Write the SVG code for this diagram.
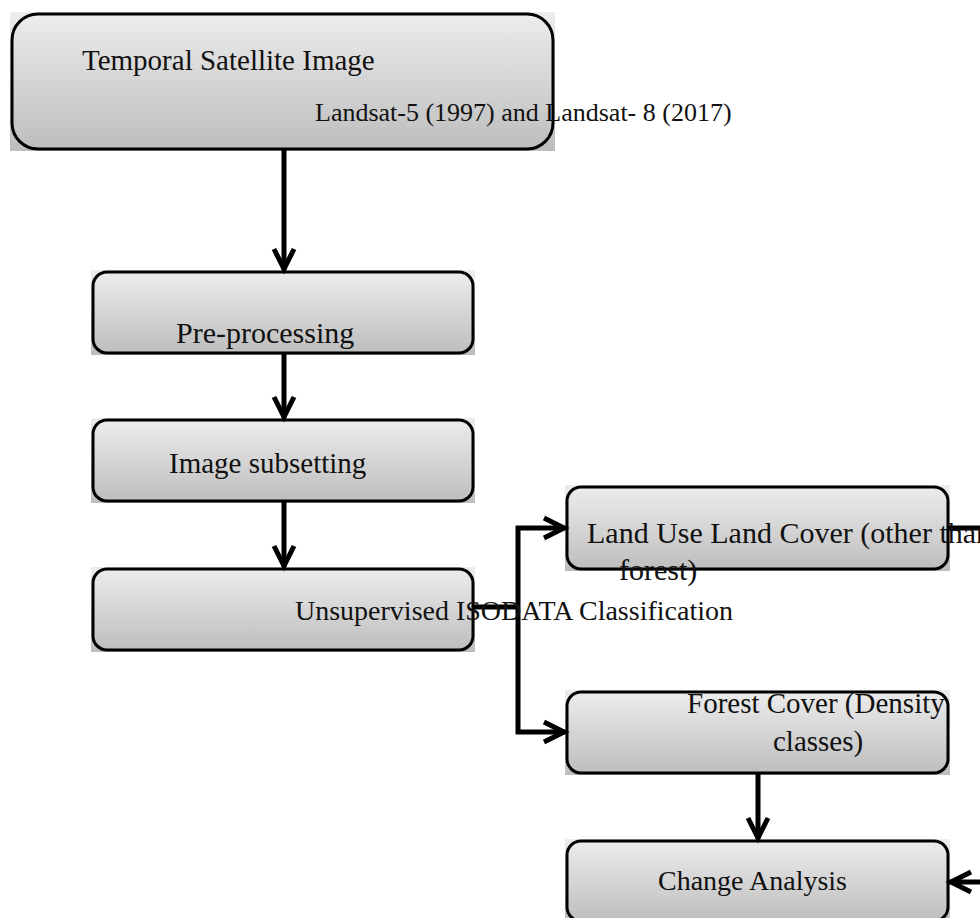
<svg xmlns="http://www.w3.org/2000/svg" width="980" height="918" viewBox="0 0 980 918">
<defs>
<linearGradient id="g" x1="0" y1="0" x2="0" y2="1">
<stop offset="0" stop-color="#ededed"/>
<stop offset="1" stop-color="#bdbdbd"/>
</linearGradient>
<marker id="arr" markerUnits="userSpaceOnUse" markerWidth="40" markerHeight="40" viewBox="-30 -20 40 40" refX="0" refY="0" orient="auto" overflow="visible">
<path d="M-21,-10 L-1,0 L-21,10" fill="none" stroke="#000" stroke-width="5" stroke-linejoin="miter"/>
</marker>
<style>
.bg{fill:url(#g);}
.bx{fill:none;stroke:#000;stroke-width:3;}
.t{font-family:"Liberation Serif","Times New Roman",serif;fill:#111;}
.c{fill:none;stroke:#000;stroke-width:5;}
</style>
</defs>
<rect width="980" height="918" fill="#fff"/>

<g id="n1">
<rect class="bg" x="10" y="12" width="545" height="139"/>
<rect class="bx" x="12" y="14" width="541" height="135" rx="26"/>
<text class="t" x="82" y="70" font-size="29">Temporal Satellite Image</text>
</g>

<g id="n2">
<rect class="bg" x="91" y="270" width="384" height="85"/>
<rect class="bx" x="93" y="272" width="380" height="81" rx="14"/>
<text class="t" x="176" y="343" font-size="30">Pre-processing</text>
</g>

<g id="n3">
<rect class="bg" x="91" y="418" width="384" height="85"/>
<rect class="bx" x="93" y="420" width="380" height="81" rx="14"/>
<text class="t" x="169" y="473" font-size="29">Image subsetting</text>
</g>

<g id="n4">
<rect class="bg" x="91" y="567" width="384" height="85"/>
<rect class="bx" x="93" y="569" width="380" height="81" rx="14"/>
</g>

<g id="n5">
<rect class="bg" x="565" y="485" width="385" height="86"/>
<rect class="bx" x="567" y="487" width="381" height="82" rx="14"/>
</g>

<g id="n6">
<rect class="bg" x="565" y="690" width="385" height="85"/>
<rect class="bx" x="567" y="692" width="381" height="81" rx="14"/>
</g>

<g id="n7">
<rect class="bg" x="565" y="839" width="385" height="84"/>
<rect class="bx" x="567" y="841" width="381" height="80" rx="14"/>
<text class="t" x="658" y="890" font-size="28">Change Analysis</text>
</g>

<g id="connectors">
<line class="c" x1="284" y1="149" x2="284" y2="270" marker-end="url(#arr)"/>
<line class="c" x1="284" y1="353" x2="284" y2="418" marker-end="url(#arr)"/>
<line class="c" x1="284" y1="501" x2="284" y2="567" marker-end="url(#arr)"/>
<path class="c" d="M473,607 H518"/>
<path class="c" d="M518,607 V528 H565" marker-end="url(#arr)"/>
<path class="c" d="M518,607 V732 H565" marker-end="url(#arr)"/>
<line class="c" x1="758" y1="773" x2="758" y2="839" marker-end="url(#arr)"/>
<path class="c" d="M948,528 H990"/>
<path class="c" d="M990,882 H950" marker-end="url(#arr)"/>
</g>

<g id="labels">
<text class="t" x="315" y="121" font-size="26">Landsat-5 (1997) and Landsat- 8 (2017)</text>
<text class="t" x="295" y="620" font-size="28">Unsupervised ISODATA Classification</text>
<text class="t" x="587" y="543" font-size="30">Land Use Land Cover (other than</text>
<text class="t" x="619" y="580" font-size="30">forest)</text>
<text class="t" x="687" y="713" font-size="29">Forest Cover (Density</text>
<text class="t" x="773" y="751" font-size="29">classes)</text>
</g>
</svg>
